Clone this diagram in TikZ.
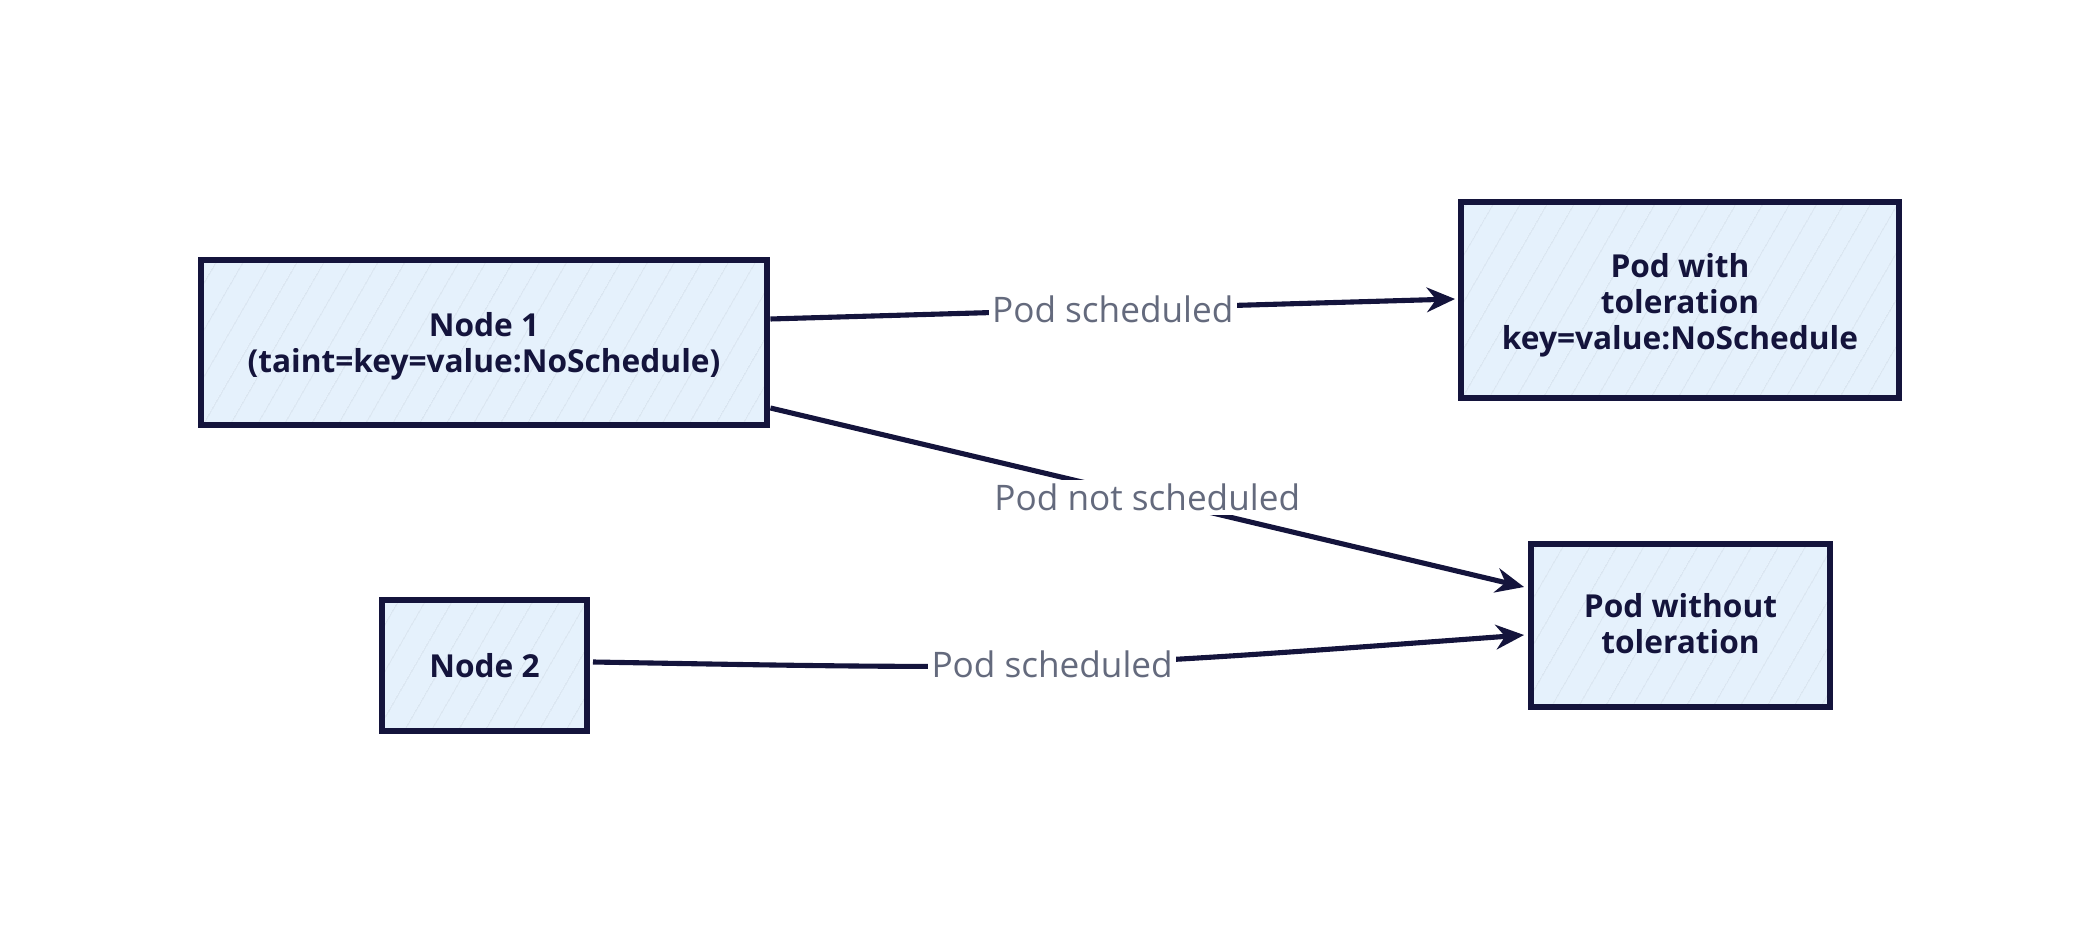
\documentclass[tikz,border=0pt]{standalone}
\usepackage{fontspec}
\setmainfont{Open Sans}
\usetikzlibrary{arrows.meta,patterns.meta,calc}
\definecolor{ink}{HTML}{14143C}
\definecolor{boxfill}{HTML}{E5F1FC}
\definecolor{hatch}{HTML}{D2DEEA}
\definecolor{lblgray}{HTML}{646A7D}
\begin{document}
\begin{tikzpicture}[x=0.01cm,y=-0.01cm,
  sbox/.style={draw=ink, line width=1.7pt, rectangle, align=center,
    preaction={fill=boxfill},
    pattern={Lines[angle=60,distance=6.5pt,line width=0.25pt]}, pattern color=hatch,
    text=ink, font=\fontsize{9}{10.2}\selectfont\bfseries, inner sep=0pt},
  conn/.style={draw=ink, line width=1.45pt, -{Stealth[length=8pt,width=7pt]}},
  lbl/.style={fill=white, text=lblgray, font=\fontsize{10}{11}\selectfont, inner sep=1pt}]
\useasboundingbox (0,0) rectangle (2100,934);
\node[sbox, minimum width=566*0.01cm, minimum height=165*0.01cm] (n1) at (484,342.5) {\raisebox{-0.05cm}[\height][\depth]{\begin{tabular}{@{}c@{}}Node 1\\(taint=key=value:NoSchedule)\end{tabular}}};
\node[sbox, minimum width=205*0.01cm, minimum height=131*0.01cm] (n2) at (484.5,665.5) {Node 2};
\node[sbox, minimum width=438*0.01cm, minimum height=196*0.01cm] (pw) at (1680,300) {\raisebox{-0.06cm}[\height][\depth]{\begin{tabular}{@{}c@{}}Pod with\\toleration\\key=value:NoSchedule\end{tabular}}};
\node[sbox, minimum width=299*0.01cm, minimum height=163*0.01cm] (po) at (1680.5,625.5) {\raisebox{-0.03cm}[\height][\depth]{\begin{tabular}{@{}c@{}}Pod without\\toleration\end{tabular}}};
\draw[conn] ($(n1.east)+(3,-23.5)$) -- node[lbl]{Pod scheduled} ($(pw.west)+(-3,-1)$);
\draw[conn] ($(n1.east)+(3,65.5)$) -- node[lbl]{Pod not scheduled} ($(po.west)+(-4,-38.5)$);
\draw[conn] ($(n2.east)+(3,-3.5)$) .. controls (1050,670) .. node[lbl, pos=0.5]{Pod scheduled} ($(po.west)+(-4,9.5)$);
\end{tikzpicture}
\end{document}
